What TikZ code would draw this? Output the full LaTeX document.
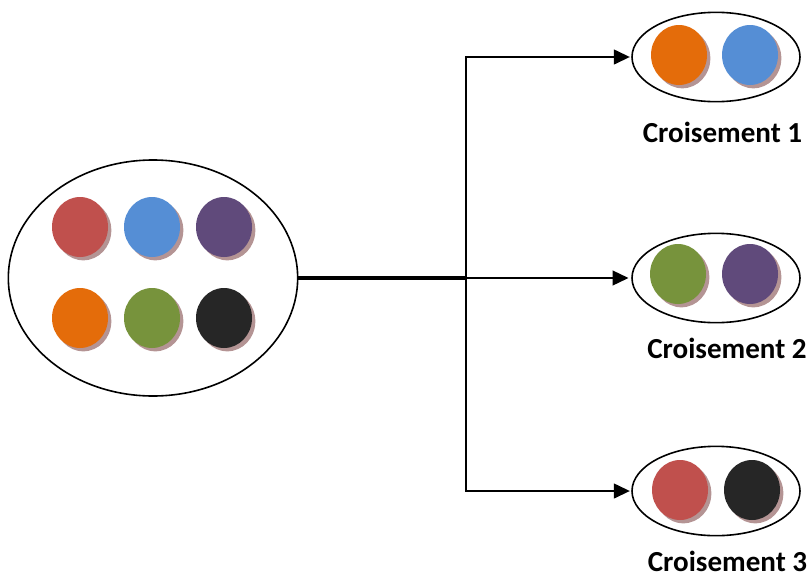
\documentclass[tikz,border=0pt]{standalone}
\usepackage{fontspec}
\setmainfont{Carlito}
\usetikzlibrary{positioning,shapes.geometric,shadows,arrows.meta}

\definecolor{bred}{HTML}{C0504D}
\definecolor{bblue}{HTML}{558ED5}
\definecolor{bpurple}{HTML}{604A7B}
\definecolor{borange}{HTML}{E46C0A}
\definecolor{bgreen}{HTML}{77933C}
\definecolor{bblack}{HTML}{262626}
\definecolor{bshadow}{HTML}{B49494}

\tikzset{
  ball/.style={ellipse, fill=#1, minimum width=42pt, minimum height=45pt, inner sep=0pt,
    drop shadow={shadow xshift=2.5pt, shadow yshift=-2.5pt, fill=bshadow, opacity=1}},
  pool/.style={ellipse, draw, line width=1.2pt, minimum width=217pt, minimum height=177pt},
  pair/.style={ellipse, draw, line width=1.2pt, minimum width=126pt, minimum height=67pt},
  link/.style={line width=1.7pt},
  cross/.style={font=\bfseries\fontsize{21.8}{26}\selectfont, anchor=base},
}

\begin{document}
\begin{tikzpicture}[x=0.75pt, y=-0.75pt]
      \useasboundingbox (0,0) rectangle (812,578);

      % parents
      \node[pool] (p0) at (153,278) {};
      \foreach \col [count=\i] in {bred,bblue,bpurple}
        \node[ball=\col] (a\i) at ({8+72*\i},227) {};
      \foreach \col [count=\i] in {borange,bgreen,bblack}
        \node[ball=\col] (b\i) at ({8+72*\i},318) {};

      % crossings
      \node[pair] (c1) at (716,57) {};
      \node[pair] (c2) at (716,278) {};
      \node[pair] (c3) at (716,491) {};

      \node[ball=borange] (c1l) at (679,55) {};
      \node[ball=bblue] (c1r) at (750,55) {};
      \node[ball=bgreen] (c2l) at (678,274) {};
      \node[ball=bpurple] (c2r) at (750,274) {};
      \node[ball=bred] (c3l) at (680,490) {};
      \node[ball=bblack] (c3r) at (752,490) {};

      \node[cross] (l1) at (722.5,142) {Croisement 1};
      \node[cross] (l2) at (727,358) {Croisement 2};
      \node[cross] (l3) at (727.5,571) {Croisement 3};

      % connectors
      \coordinate (j) at (466,278);
      \draw[line width=2.6pt] (p0.east) -- (j);
      \draw[link, -{Triangle[length=12pt,width=11pt]}, shorten >=1pt] (j) |- (c1.west);
      \draw[link, -{Triangle[length=12pt,width=11pt]}, shorten >=2pt] (j) -- (c2.west);
      \draw[link, -{Triangle[length=12pt,width=11pt]}, shorten >=1pt] (j) |- (c3.west);
    \end{tikzpicture}
\end{document}
